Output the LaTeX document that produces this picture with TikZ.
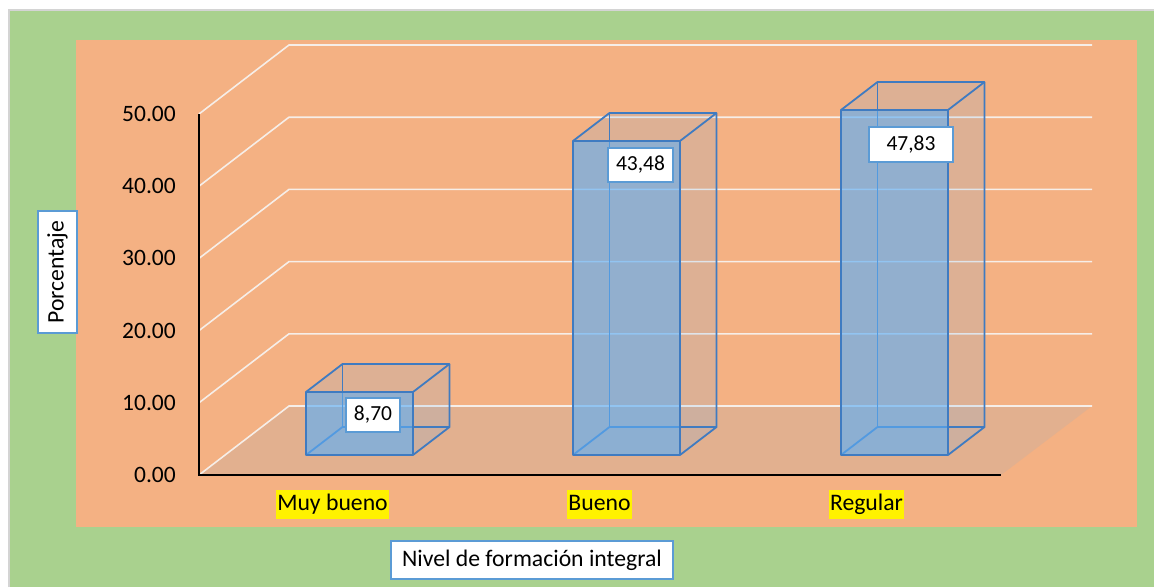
\documentclass[tikz,border=0pt]{standalone}
\usepackage{fontspec}
\setmainfont{Carlito}
\definecolor{bggreen}{HTML}{A9D18E}
\definecolor{bgorange}{HTML}{F4B183}
\definecolor{floorc}{HTML}{E2B08F}
\definecolor{edgeblue}{HTML}{3F7BC1}
\definecolor{faceblue}{RGB}{96,175,246}
\definecolor{boxblue}{HTML}{5B9BD5}
\definecolor{gridc}{HTML}{F6EEE8}
\definecolor{framegray}{HTML}{D4D4D4}
\tikzset{
  gridline/.style={draw=gridc, line width=1.6pt},
  barside/.style={fill=faceblue, fill opacity=0.15},
  barface/.style={fill=faceblue, fill opacity=0.6},
  baredge/.style={draw=edgeblue, line width=1.8pt, line join=round},
  valbox/.style={draw=boxblue, fill=white, line width=1.8pt, inner sep=0pt,
    font=\fontsize{21.5}{25}\selectfont, minimum height=34pt},
  catlab/.style={fill=yellow, inner xsep=1pt, inner ysep=3pt, text height=17pt, text depth=6pt,
    font=\fontsize{23.7}{28}\selectfont},
  ticklab/.style={anchor=east, inner sep=0pt, font=\fontsize{23.5}{28}\selectfont},
  titlebox/.style={draw=boxblue, fill=white, line width=1.8pt, inner sep=0pt,
    font=\fontsize{23.7}{28}\selectfont},
}
\newcommand\cuboid[2]{%
  \begin{scope}[shift={(#1,455)}]
    \path[barside] (0,0) -- (107,0) -- (143.5,-28) -- (143.5,-28-#2) -- (36.5,-28-#2) -- (0,-#2) -- cycle;
    \draw[baredge] (0,0) -- (36.5,-28) -- (143.5,-28);
    \draw[baredge] (36.5,-28) -- (36.5,-28-#2);
    \path[barface] (0,0) rectangle (107,-#2);
    \draw[baredge] (0,0) rectangle (107,-#2);
    \draw[baredge] (0,-#2) -- (36.5,-28-#2) -- (143.5,-28-#2) -- (143.5,-28) -- (107,0);
    \draw[baredge] (107,-#2) -- (143.5,-28-#2);
  \end{scope}}
\begin{document}
\begin{tikzpicture}[x=1pt,y=-1pt]
  \useasboundingbox (0,0) rectangle (1154,587);
  \fill[white] (0,0) rectangle (1154,587);
  \fill[bggreen] (10,11) rectangle (1154,587);
  \draw[framegray, line width=1.5pt] (9,587) -- (9,10) -- (1154,10);
  \fill[bgorange] (76,40) rectangle (1137,527);
  % floor
  \fill[floorc] (199,475) -- (289,406) -- (1092,406) -- (1001,475) -- cycle;
  % gridlines
  \foreach \k in {0,...,5}{
    \pgfmathsetmacro\yf{475-72.2*\k}
    \draw[gridline] (199,\yf) -- (289,\yf-69) -- (1092,\yf-69);
  }
  % bars
  \cuboid{306}{63}
  \cuboid{573}{314}
  \cuboid{841}{345}
  % axes
  \draw[black, line width=2pt] (199,114) -- (199,475) -- (1001,475);
  % tick labels
  \node[ticklab] (t0) at (176,475) {0.00};
  \node[ticklab] (t1) at (176,402.8) {10.00};
  \node[ticklab] (t2) at (176,330.6) {20.00};
  \node[ticklab] (t3) at (176,258.4) {30.00};
  \node[ticklab] (t4) at (176,186.2) {40.00};
  \node[ticklab] (t5) at (176,114) {50.00};
  % category labels
  \node[catlab] (c1) at (332.5,504.5) {Muy bueno};
  \node[catlab] (c2) at (599.5,504.5) {Bueno};
  \node[catlab] (c3) at (866.5,504.5) {Regular};
  % value labels
  \node[valbox, minimum width=54pt] (v1) at (373,415) {8,70};
  \node[valbox, minimum width=65pt] (v2) at (640.5,165) {43,48};
  \node[valbox, minimum width=84pt, minimum height=35pt] (v3) at (911,144.5) {47,83};
  % axis titles
  \node[titlebox, minimum width=282pt, minimum height=38pt] (xt) at (532,560) {Nivel de formación integral};
  \node[titlebox, minimum width=122pt, minimum height=39pt, rotate=90] (yt) at (57.5,272) {Porcentaje};
\end{tikzpicture}
\end{document}
